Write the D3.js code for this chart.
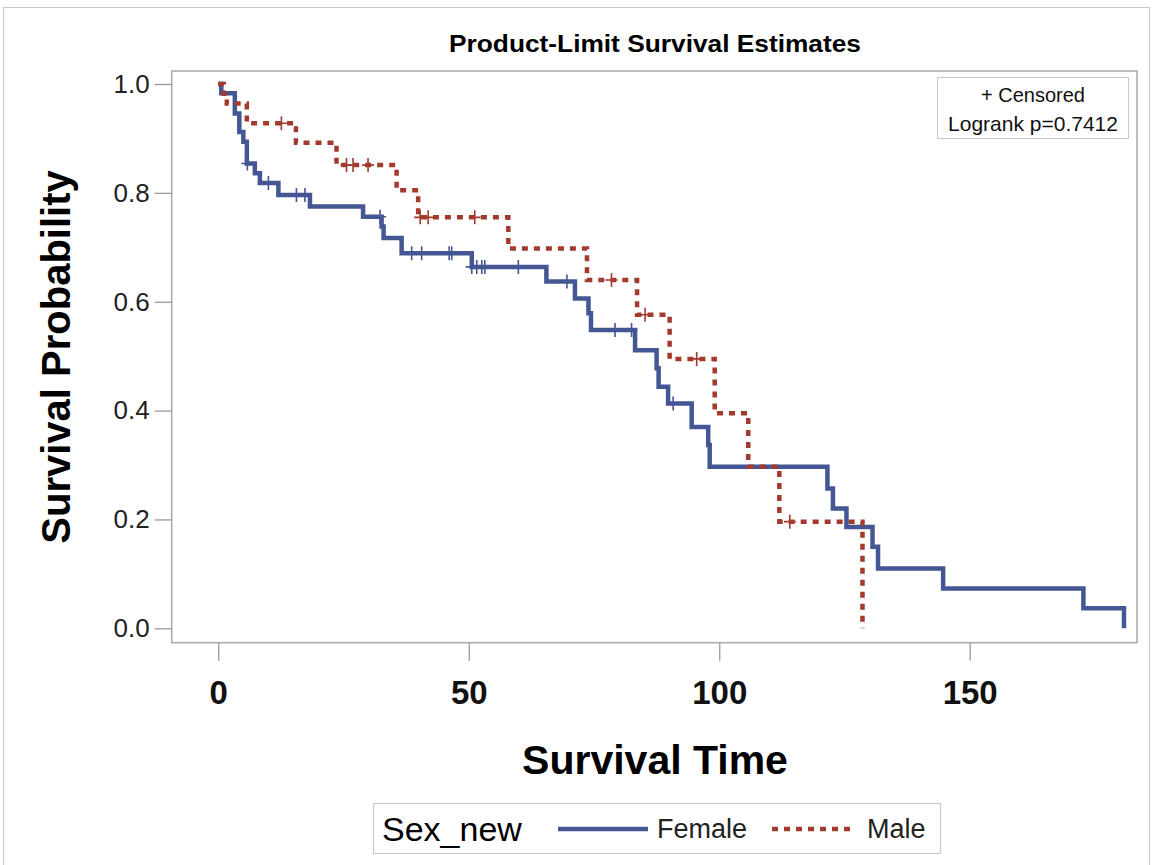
<!DOCTYPE html>
<html><head><meta charset="utf-8">
<script src="https://cdn.jsdelivr.net/npm/d3@7/dist/d3.min.js"></script>
<style>body{margin:0;background:#fff;} svg{display:block;font-family:"Liberation Sans",Arial,sans-serif;}</style>
</head><body>
<svg id="chart" width="1156" height="865"></svg>
<script>
// ---- data ----
const femaleTimes = [0, 0.6, 3.3, 4.2, 5.0, 5.7, 7.3, 8.3, 12.0, 18.3, 28.9, 32.6, 33.0, 36.6, 50.6, 65.5, 71.2, 73.9, 74.4, 83.2, 87.5, 87.9, 89.8, 94.5, 97.8, 98.1, 121.6, 122.7, 125.4, 130.6, 131.7, 144.7, 172.7, 180.8];
const femaleSurv  = [1, 0.983, 0.946, 0.912, 0.894, 0.854, 0.836, 0.818, 0.796, 0.775, 0.756, 0.738, 0.717, 0.689, 0.664, 0.637, 0.606, 0.579, 0.548, 0.511, 0.478, 0.444, 0.413, 0.370, 0.337, 0.297, 0.257, 0.220, 0.186, 0.150, 0.110, 0.073, 0.037, 0];
const femaleCensored = [5.8, 10.0, 15.6, 17.3, 32.3, 38.6, 40.6, 46.1, 46.6, 50.6, 51.6, 52.6, 53.2, 59.9, 69.6, 79.2, 82.5, 90.8];

const maleTimes = [0, 1.1, 1.7, 5.7, 15.5, 23.6, 35.6, 39.9, 57.9, 73.6, 83.6, 90.1, 99.1, 105.8, 112.0, 128.6];
const maleSurv  = [1, 0.982, 0.964, 0.928, 0.892, 0.851, 0.805, 0.755, 0.698, 0.640, 0.576, 0.495, 0.395, 0.297, 0.196, 0];
const maleCensored = [12.6, 25.6, 26.9, 29.9, 40.3, 41.9, 51.2, 78.5, 85.2, 95.5, 114.1];

const xTicks = [0, 50, 100, 150];
const yTicks = [0.0, 0.2, 0.4, 0.6, 0.8, 1.0];
const groupNames = ["Female", "Male"];
const titleText = "Product-Limit Survival Estimates";
const xLabel = "Survival Time";
const yLabel = "Survival Probability";
const legendTitle = "Sex_new";
const insetLines = ["+ Censored", "Logrank p=0.7412"];

// ---- layout ----
const colors = {Female: "#445694", Male: "#A23A2E"};
const svg = d3.select("#chart");
const frame = {left: 171.7, right: 1137, top: 71, bottom: 642.7};
const x = d3.scaleLinear().domain([-9.3, 183.4]).range([frame.left, frame.right]);
const y = d3.scaleLinear().domain([-0.0264, 1.0239]).range([frame.bottom, frame.top]);

// outer border
svg.append("rect").attr("x", 3.5).attr("y", 7.5).attr("width", 1146).attr("height", 870)
  .attr("fill", "none").attr("stroke", "#c8c8c8").attr("stroke-width", 1);

// title
svg.append("text").attr("x", 655).attr("y", 52).attr("text-anchor", "middle")
  .attr("font-size", 23).attr("font-weight", "bold").attr("fill", "#000")
  .attr("textLength", 412).attr("lengthAdjust", "spacingAndGlyphs").text(titleText);

// frame
svg.append("rect").attr("x", frame.left).attr("y", frame.top)
  .attr("width", frame.right - frame.left).attr("height", frame.bottom - frame.top)
  .attr("fill", "none").attr("stroke", "#a8a8a8").attr("stroke-width", 1.5);

// axes
const xAxis = d3.axisBottom(x).tickValues(xTicks).tickFormat(d3.format("d")).tickSize(18).tickSizeOuter(0);
const gx = svg.append("g").attr("transform", `translate(0,${frame.bottom})`).call(xAxis);
gx.select(".domain").remove();
gx.selectAll(".tick line").attr("stroke", "#9a9a9a").attr("stroke-width", 1.3);
gx.selectAll(".tick text").attr("y", 38).attr("font-size", 33).attr("font-weight", "bold")
  .attr("fill", "#111").attr("font-family", "Liberation Sans, Arial, sans-serif");

const yAxis = d3.axisLeft(y).tickValues(yTicks).tickFormat(d3.format(".1f")).tickSize(17).tickSizeOuter(0);
const gy = svg.append("g").attr("transform", `translate(${frame.left},0)`).call(yAxis);
gy.select(".domain").remove();
gy.selectAll(".tick line").attr("stroke", "#9a9a9a").attr("stroke-width", 1.3);
gy.selectAll(".tick text").attr("x", -22).attr("font-size", 26)
  .attr("fill", "#222").attr("font-family", "Liberation Sans, Arial, sans-serif");

// axis labels
svg.append("text").attr("x", 655).attr("y", 774).attr("text-anchor", "middle")
  .attr("font-size", 41).attr("font-weight", "bold").attr("fill", "#000").text(xLabel);
svg.append("text").attr("transform", "translate(70,357) rotate(-90)").attr("text-anchor", "middle")
  .attr("font-size", 40).attr("font-weight", "bold").attr("fill", "#000").text(yLabel);

// curves
function stepData(times, surv) { return times.map((t, i) => ({t, s: surv[i]})); }
function survAt(times, surv, t) {
  let v = surv[0];
  for (let i = 0; i < times.length; i++) { if (times[i] <= t) v = surv[i]; }
  return v;
}
const line = d3.line().x(d => x(d.t)).y(d => y(d.s)).curve(d3.curveStepAfter);

const series = [
  {name: "Female", times: femaleTimes, surv: femaleSurv, cens: femaleCensored, dash: null},
  {name: "Male", times: maleTimes, surv: maleSurv, cens: maleCensored, dash: "6,6"}
];
const plot = svg.append("g");
series.forEach(sr => {
  plot.append("path").datum(stepData(sr.times, sr.surv)).attr("d", line)
    .attr("fill", "none").attr("stroke", colors[sr.name]).attr("stroke-width", 4.5)
    .attr("stroke-dasharray", sr.dash);
  const cg = plot.append("g");
  sr.cens.forEach(t => {
    const cx = x(t), cy = y(survAt(sr.times, sr.surv, t));
    cg.append("path").attr("d", `M${cx-6},${cy}H${cx+6}M${cx},${cy-7}V${cy+7}`)
      .attr("stroke", colors[sr.name]).attr("stroke-width", 1.6).attr("fill", "none");
  });
});

// inset box
const ib = svg.append("g");
ib.append("rect").attr("x", 937.5).attr("y", 77.5).attr("width", 191).attr("height", 61)
  .attr("fill", "#fff").attr("stroke", "#c8c8c8").attr("stroke-width", 1);
ib.append("text").attr("x", 1033).attr("y", 102).attr("text-anchor", "middle")
  .attr("font-size", 20).attr("fill", "#111").text(insetLines[0]);
ib.append("text").attr("x", 1033).attr("y", 131).attr("text-anchor", "middle")
  .attr("font-size", 21).attr("fill", "#111").text(insetLines[1]);

// legend
const lg = svg.append("g");
lg.append("rect").attr("x", 373.5).attr("y", 803.5).attr("width", 567).attr("height", 50)
  .attr("fill", "#fff").attr("stroke", "#c8c8c8").attr("stroke-width", 1.2);
lg.append("text").attr("x", 382).attr("y", 841).attr("font-size", 34).attr("fill", "#000").text(legendTitle);
lg.append("line").attr("x1", 558).attr("x2", 648).attr("y1", 829).attr("y2", 829)
  .attr("stroke", colors[groupNames[0]]).attr("stroke-width", 4.5);
lg.append("text").attr("x", 657).attr("y", 838).attr("font-size", 27).attr("fill", "#222").text(groupNames[0]);
lg.append("line").attr("x1", 772).attr("x2", 854).attr("y1", 829).attr("y2", 829)
  .attr("stroke", colors[groupNames[1]]).attr("stroke-width", 4.5).attr("stroke-dasharray", "6,6");
lg.append("text").attr("x", 867).attr("y", 838).attr("font-size", 27).attr("fill", "#222").text(groupNames[1]);
</script>
</body></html>
